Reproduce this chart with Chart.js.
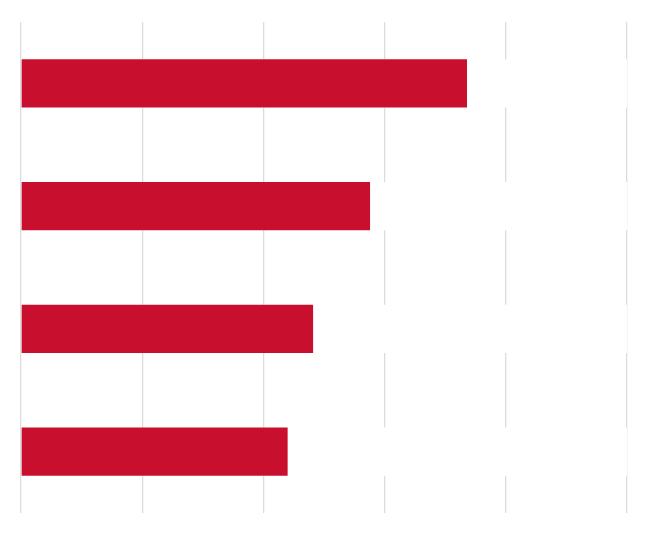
<!DOCTYPE html>
<html>
<head>
<meta charset="utf-8">
<script src="https://cdn.jsdelivr.net/npm/chart.js@4"></script>
<style>
html,body{margin:0;padding:0;background:#fff;}
#wrap{width:654px;height:535px;position:relative;}
</style>
</head>
<body>
<div id="wrap"><canvas id="c" width="654" height="535"></canvas></div>
<script>
const categories = ["A", "B", "C", "D"];
const values = [3.68, 2.88, 2.41, 2.20];
const trackValues = [5, 5, 5, 5];
const xTicks = [0, 1, 2, 3, 4, 5];

new Chart(document.getElementById('c'), {
  type: 'bar',
  data: {
    labels: categories,
    datasets: [
      { data: values, backgroundColor: '#C8102E', grouped: false, categoryPercentage: 1, barPercentage: 0.395, borderWidth: 0 },
      { data: trackValues, backgroundColor: '#ffffff', grouped: false, categoryPercentage: 1, barPercentage: 0.395, borderWidth: 0 }
    ]
  },
  options: {
    indexAxis: 'y',
    responsive: false,
    animation: false,
    layout: { padding: { left: 21, right: 27, top: 22, bottom: 22 } },
    plugins: { legend: { display: false }, tooltip: { enabled: false } },
    scales: {
      x: {
        min: xTicks[0], max: xTicks[xTicks.length - 1],
        afterBuildTicks: (s) => { s.ticks = xTicks.map(v => ({ value: v })); },
        ticks: { display: false },
        grid: { color: '#dcdcdc', lineWidth: 1.3, drawTicks: false },
        border: { display: false }
      },
      y: {
        display: false,
        grid: { display: false }
      }
    }
  }
});
</script>
</body>
</html>
